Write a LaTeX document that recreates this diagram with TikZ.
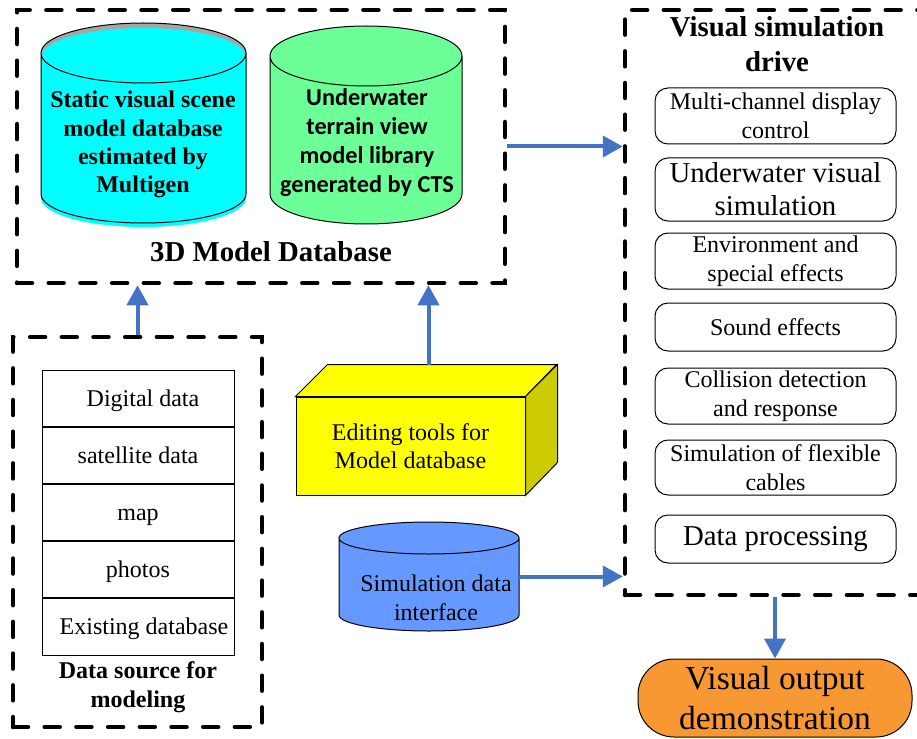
\documentclass[tikz,border=0pt]{standalone}
\usepackage{fontspec}
\setmainfont{Liberation Serif}
\newfontfamily\calibri{Carlito}
\usetikzlibrary{arrows.meta,positioning,calc}
\definecolor{arrowblue}{RGB}{68,114,196}
\definecolor{dbcyan}{RGB}{0,255,255}
\definecolor{dbgreen}{RGB}{108,255,152}
\definecolor{dbblue}{RGB}{102,153,255}
\definecolor{edityellow}{RGB}{255,255,0}
\definecolor{editside}{RGB}{204,204,0}
\definecolor{outorange}{RGB}{247,152,50}
\tikzset{
  dashbox/.style={draw, line width=4.5pt, dash pattern=on 15pt off 16.7pt, line cap=round, inner sep=0pt},
  modbox/.style={draw, line width=1pt, rounded corners=13pt, minimum width=241pt, inner sep=0pt, align=center, font=\fontsize{24}{29}\selectfont},
  srcrow/.style={draw, line width=1pt, minimum width=192pt, minimum height=56.2pt, inner sep=0pt, text height=18pt, text depth=2pt, font=\fontsize{24}{29}\selectfont},
  flow/.style={draw=arrowblue, line width=4pt, -{Triangle[length=20pt,width=21pt,fill=arrowblue]}},
  body/.style={minimum width=#1, inner sep=0pt, outer sep=0pt}
}
% cylinder drawn from the anchors of an empty node: name, fill, radius of the ends
\newcommand{\cylbody}[3]{%
  \path[draw, line width=1pt, fill=#2] let \p1=(#1.north west), \p2=(#1.south east), \n1={(\x2-\x1)/2} in
    (\p1) -- (\x1,\y2) arc[start angle=180, end angle=360, x radius=\n1, y radius=#3]
    -- (\x2,\y1) (#1.north) ellipse[x radius=\n1, y radius=#3];}
\begin{document}
\begin{tikzpicture}[x=1pt,y=-1pt]
\clip (0,0) rectangle (917,738);
\fill[white] (0,0) rectangle (917,738);

% 3D model database
\node[dashbox, minimum width=488pt, minimum height=273pt] (modeldb) at (261,146.5) {};
\node[anchor=base, font=\fontsize{28.8}{34}\selectfont\bfseries] (modeldbtitle) at (271,261) {3D Model Database};

\node[body=205pt, minimum height=141pt] (visdb) at (143.5,123.5) {};
\fill[gray!70] (visdb.north) ellipse[x radius=102.5pt, y radius=30pt];
\fill[dbcyan] let \p1=(visdb.north west), \p2=(visdb.south east) in
  ([yshift=-4pt]\p1) -- (\x1,\y2-4pt) arc[start angle=180, end angle=360, x radius=102.5pt, y radius=29pt]
  -- (\x2,\y1-4pt) -- cycle ([yshift=-4pt]visdb.north) ellipse[x radius=102.5pt, y radius=29pt];
\draw[line width=1pt] let \p1=(visdb.north west), \p2=(visdb.south east) in
  (\p1) -- (\x1,\y2) arc[start angle=180, end angle=360, x radius=102.5pt, y radius=29pt]
  -- (\x2,\y1) (visdb.north) ellipse[x radius=102.5pt, y radius=30pt];
\node[anchor=base, align=center, font=\fontsize{24}{28.4}\selectfont\bfseries] (visdbtext) at (143,193)
  {Static visual scene\\model database\\estimated by\\Multigen};

\node[body=192pt, minimum height=138pt] (terrdb) at (366,125) {};
\cylbody{terrdb}{dbgreen}{30pt}
\node[anchor=base, align=center, font=\calibri\fontsize{24.3}{29}\selectfont\bfseries] (terrdbtext) at (367,193)
  {Underwater\\terrain view\\model library\\generated by CTS};

% visual simulation drive
\node[dashbox, minimum width=305pt, minimum height=585pt] (simdrive) at (777.5,302.5) {};
\node[anchor=base, align=center, font=\fontsize{28.8}{35}\selectfont\bfseries] (simdrivetitle) at (777,72)
  {Visual simulation\\drive};
\node[modbox, minimum height=56pt] (chan) at (775.5,116) {Multi-channel display\\control};
\node[modbox, minimum height=63pt, font=\fontsize{28.8}{33}\selectfont] (uwvis) at (775.5,189.5) {Underwater visual\\simulation};
\node[modbox, minimum height=56pt] (envfx) at (775.5,261) {Environment and\\special effects};
\node[modbox, minimum height=48pt] (sound) at (775.5,327) {Sound effects};
\node[modbox, minimum height=56pt] (collide) at (775.5,396) {Collision detection\\and response};
\node[modbox, minimum height=55pt] (cables) at (775.5,467.5) {Simulation of flexible\\cables};
\node[modbox, minimum height=48pt, font=\fontsize{28.8}{33}\selectfont] (dataproc) at (775.5,539) {Data processing};

\node[draw, line width=1pt, fill=outorange, rounded corners=36pt, minimum width=274pt, minimum height=78pt,
  align=center, font=\fontsize{33.5}{40}\selectfont] (output) at (775,698) {Visual output\\demonstration};

% data source for modeling
\node[dashbox, minimum width=249pt, minimum height=390pt] (datasrc) at (137.5,532) {};
\node[srcrow] (digital) at (138,398.1) {\hspace{10pt}Digital data};
\node[srcrow, below=0pt of digital] (satellite) {satellite data};
\node[srcrow, below=0pt of satellite] (map) {map};
\node[srcrow, below=0pt of map] (photos) {photos};
\node[srcrow, below=0pt of photos] (existing) {\hspace{12pt}Existing database};
\node[anchor=base, align=center, font=\fontsize{24}{29}\selectfont\bfseries] (datasrctitle) at (138,707)
  {Data source for\\modeling};

% editing tools (box)
\node[draw, line width=1pt, fill=edityellow, minimum width=229pt, minimum height=98pt, inner sep=0pt,
  align=center, font=\fontsize{24}{28}\selectfont] (edittool) at (410.5,446) {Editing tools for\\Model database};
\draw[line width=1pt, fill=edityellow] (edittool.north west) -- ++(32,-32) -- ++(229,0) -- (edittool.north east) -- cycle;
\draw[line width=1pt, fill=editside] (edittool.north east) -- ++(32,-32) -- ++(0,98) -- (edittool.south east) -- cycle;
\coordinate (edittop) at ([shift={(18,-32)}]edittool.north);

% simulation data interface
\node[body=180pt, minimum height=77pt] (simcyl) at (429,576.5) {};
\cylbody{simcyl}{dbblue}{16pt}
\node[align=center, font=\fontsize{24}{29}\selectfont] (simcyltext) at (436,598) {Simulation data\\interface};

% arrows
\draw[flow] (datasrc.north) -- (datasrc.north |- modeldb.south);
\draw[flow] (edittop) -- (edittop |- modeldb.south);
\draw[flow] (modeldb.east) -- (modeldb.east -| simdrive.west);
\draw[flow] (simcyl.east) -- (simcyl.east -| simdrive.west);
\draw[flow] (output.north |- simdrive.south) -- (output.north);
\end{tikzpicture}
\end{document}
